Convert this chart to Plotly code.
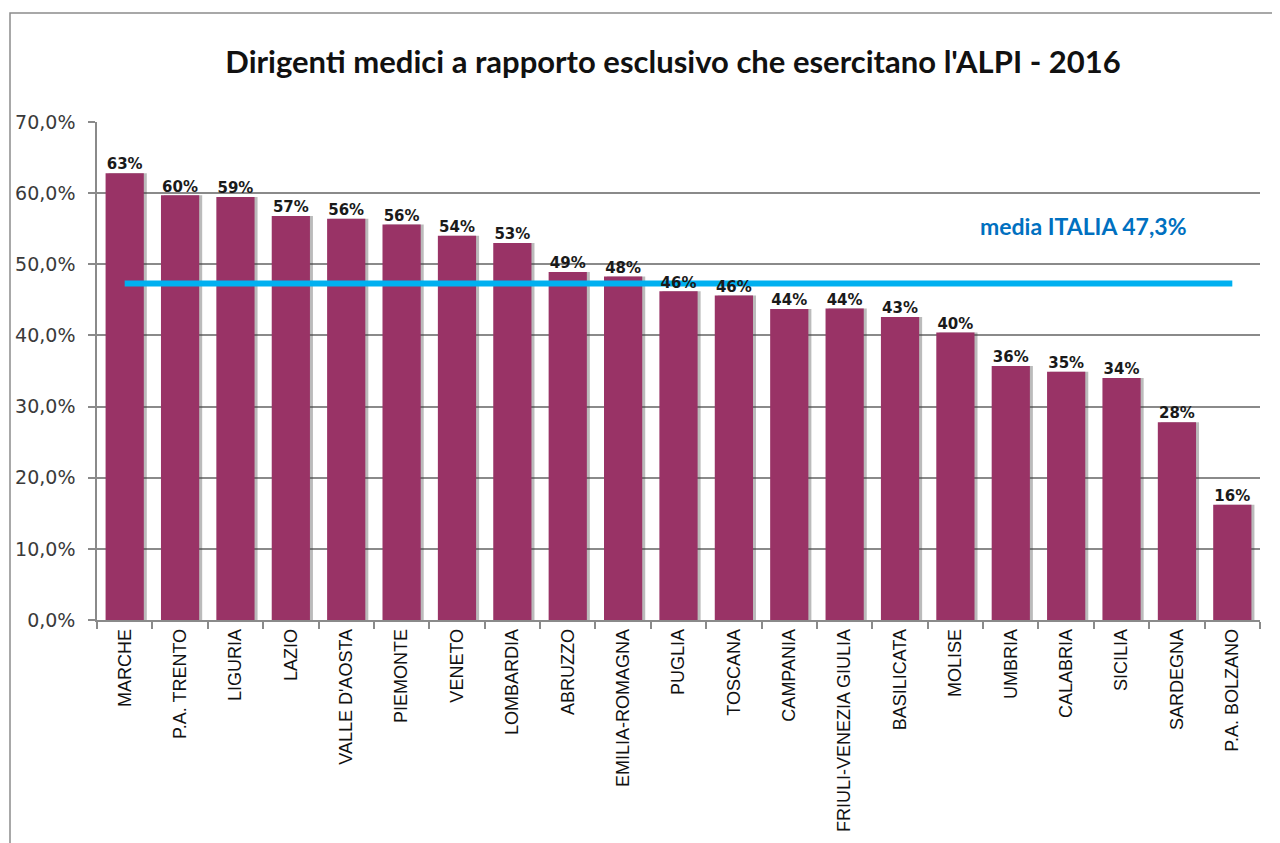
import plotly.graph_objects as go

# ---- data ----
regions = ["MARCHE", "P.A. TRENTO", "LIGURIA", "LAZIO", "VALLE D'AOSTA", "PIEMONTE",
           "VENETO", "LOMBARDIA", "ABRUZZO", "EMILIA-ROMAGNA", "PUGLIA", "TOSCANA",
           "CAMPANIA", "FRIULI-VENEZIA GIULIA", "BASILICATA", "MOLISE", "UMBRIA",
           "CALABRIA", "SICILIA", "SARDEGNA", "P.A. BOLZANO"]
values = [62.8, 59.7, 59.45, 56.8, 56.4, 55.6, 54.0, 53.0, 48.9, 48.3, 46.2, 45.6,
          43.7, 43.8, 42.6, 40.4, 35.7, 34.9, 34.0, 27.8, 16.2]
media_italia = 47.3
title_text = "Dirigenti medici a rapporto esclusivo che esercitano l'ALPI - 2016"
media_label = "media ITALIA 47,3%"

# ---- layout constants (page pixels; the page body adds an 8px offset) ----
OFF = 8
W, H = 1280 - OFF, 843 - OFF
L, R, T, B = 97 - OFF, 20, 122 - OFF, 223
PW, PH = W - L - R, H - T - B
BAR_COLOR = "#993366"
LINE_COLOR = "#00B0F0"
GRID = "#8a8a8a"
BAR_W = 0.69
CAT_PX = PW / len(regions)

labels = [f"{round(v)}%" for v in values]

fig = go.Figure()
# soft shadow behind bars
fig.add_trace(go.Bar(x=regions, y=values, width=BAR_W, offset=-BAR_W / 2 + 3 / CAT_PX,
                     marker=dict(color="rgba(60,60,60,0.35)", line=dict(width=0)),
                     hoverinfo="skip", showlegend=False))
fig.add_trace(go.Bar(x=regions, y=values, width=BAR_W, offset=-BAR_W / 2,
                     marker=dict(color=BAR_COLOR, line=dict(width=0)),
                     hoverinfo="x+y", showlegend=False))
fig.add_trace(go.Scatter(x=[regions[0], regions[-1]], y=[media_italia, media_italia],
                         mode="lines", line=dict(color=LINE_COLOR, width=6),
                         hoverinfo="skip", showlegend=False))
fig.add_trace(go.Scatter(x=regions, y=values, mode="text", text=labels,
                         textposition="top center",
                         textfont=dict(family="DejaVu Sans", size=15, color="#1a1a1a", weight="bold"),
                         hoverinfo="skip", showlegend=False))

def px_x(p):
    return (p - OFF - L) / PW

def px_y(p):
    return (T + PH - (p - OFF)) / PH

fig.add_shape(type="path", xref="paper", yref="paper",
              path=f"M {px_x(10)} {px_y(870)} L {px_x(10)} {px_y(13)} L {px_x(1320)} {px_y(13)}",
              line=dict(color="#8c8c8c", width=1.5), layer="above")

fig.add_annotation(x=px_x(1083), y=px_y(226), xref="paper", yref="paper",
                   text=media_label, showarrow=False, xanchor="center", yanchor="middle",
                   font=dict(family="Lato", size=23, color="#0070C0", weight="bold"))

fig.update_layout(
    width=W, height=H,
    margin=dict(l=L, r=R, t=T, b=B, autoexpand=False),
    paper_bgcolor="white", plot_bgcolor="white",
    separators=",.",
    barmode="overlay",
    title=dict(text=title_text, x=(673 - OFF) / W, xref="container", xanchor="center",
               y=1 - (62 - OFF) / H, yref="container", yanchor="middle",
               font=dict(family="Lato", size=31, color="#111111", weight="bold")),
    xaxis=dict(type="category", range=[-0.5, len(regions) - 0.5],
               showline=True, linecolor=GRID, linewidth=1.5,
               ticks="outside", tickson="boundaries", ticklen=7, tickcolor=GRID, tickwidth=1.5,
               tickangle=-90, showgrid=False,
               tickfont=dict(family="Liberation Sans", size=18, color="#111111")),
    yaxis=dict(range=[0, 70], dtick=10, tick0=0, tickformat=".1f", ticksuffix="%",
               showline=True, linecolor=GRID, linewidth=1.5,
               ticks="outside", ticklen=7, tickcolor=GRID, tickwidth=1.5,
               showgrid=True, gridcolor=GRID, gridwidth=1.5, zeroline=False,
               ticklabelstandoff=9,
               tickfont=dict(family="DejaVu Sans", size=19, color="#3a3a3a")),
)

fig.write_html("out.html")
